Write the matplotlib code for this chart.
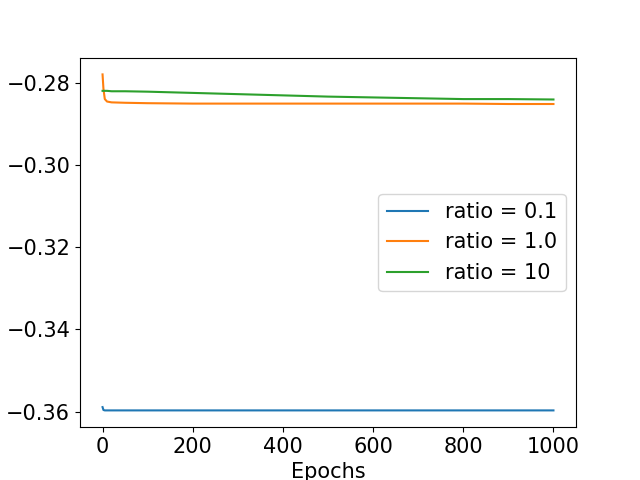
import matplotlib
matplotlib.use('Agg')
import matplotlib.pyplot as plt

plt.rcParams['font.size'] = 15

epochs = [0, 2, 5, 10, 20, 50, 100, 200, 300, 400, 500, 600, 700, 800, 900, 1000]

ratio_01 = [-0.3589, -0.3596, -0.3597, -0.3597, -0.3597, -0.3597, -0.3597, -0.3597,
            -0.3597, -0.3597, -0.3597, -0.3597, -0.3597, -0.3597, -0.3597, -0.3597]
ratio_1 = [-0.2780, -0.2815, -0.2840, -0.2846, -0.2848, -0.2849, -0.2850, -0.2851,
           -0.2851, -0.2851, -0.2851, -0.2851, -0.2851, -0.2851, -0.2852, -0.2852]
ratio_10 = [-0.2820, -0.2820, -0.2820, -0.2820, -0.2821, -0.2821, -0.2822, -0.2825,
            -0.2828, -0.2831, -0.2834, -0.2836, -0.2838, -0.2840, -0.2840, -0.2841]

fig, ax = plt.subplots(figsize=(6.4, 4.8), dpi=100)
ax.plot(epochs, ratio_01, label='ratio = 0.1')
ax.plot(epochs, ratio_1, label='ratio = 1.0')
ax.plot(epochs, ratio_10, label='ratio = 10')
ax.set_xlabel('Epochs')
ax.set_yticks([-0.36, -0.34, -0.32, -0.30, -0.28])
ax.legend(loc='center right')

fig.savefig('out.png')
